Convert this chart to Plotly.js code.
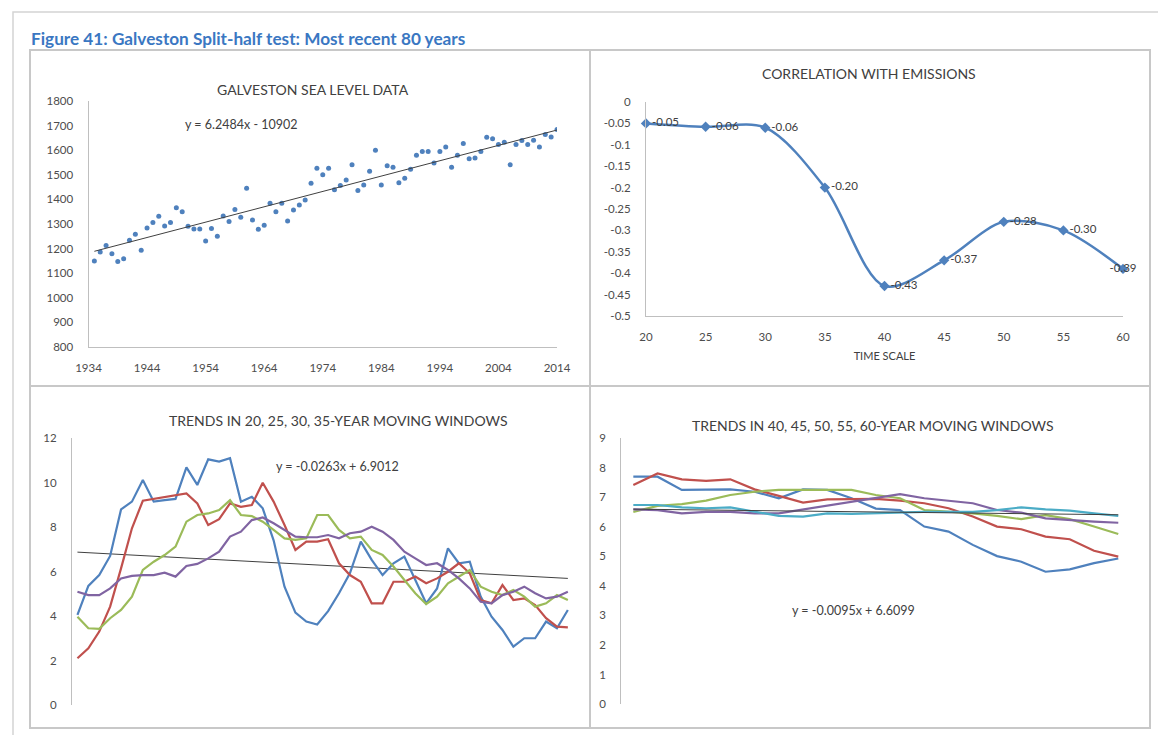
<!DOCTYPE html>
<html><head><meta charset="utf-8">
<script src="https://cdn.plot.ly/plotly-3.0.1.min.js"></script>
<style>html,body{margin:0;padding:0;background:#fff}#chart{width:1158px;height:735px}</style>
</head><body><div id="chart"></div>
<script>
// ---------- DATA ----------
const seaYears = [1935,1936,1937,1938,1939,1940,1941,1942,1943,1944,1945,1946,1947,1948,1949,1950,1951,1952,1953,1954,1955,1956,1957,1958,1959,1960,1961,1962,1963,1964,1965,1966,1967,1968,1969,1970,1971,1972,1973,1974,1975,1976,1977,1978,1979,1980,1981,1982,1983,1984,1985,1986,1987,1988,1989,1990,1991,1992,1993,1994,1995,1996,1997,1998,1999,2000,2001,2002,2003,2004,2005,2006,2007,2008,2009,2010,2011,2012,2013,2014];
const seaLevel = [1150,1186,1213,1179,1148,1159,1234,1258,1193,1284,1306,1332,1292,1306,1366,1350,1291,1280,1280,1231,1282,1250,1333,1310,1359,1327,1445,1316,1279,1295,1384,1350,1384,1312,1357,1377,1398,1466,1527,1500,1527,1439,1456,1479,1541,1436,1459,1514,1600,1459,1537,1531,1468,1486,1523,1579,1595,1595,1548,1595,1613,1531,1579,1627,1565,1568,1595,1653,1647,1623,1632,1541,1623,1639,1623,1640,1613,1664,1654,1684];
const seaTrendX = [1935, 2014];
const seaTrendY = [1189, 1682];
const seaYearTicks = [1934,1944,1954,1964,1974,1984,1994,2004,2014];

const corrScale = [20,25,30,35,40,45,50,55,60];
const corrValue = [-0.05,-0.058,-0.06,-0.20,-0.43,-0.37,-0.28,-0.30,-0.39];
const corrLabels = ["-0.05","-0.06","-0.06","-0.20","-0.43","-0.37","-0.28","-0.30","-0.39"];
const corrYTicks = [0,-0.05,-0.1,-0.15,-0.2,-0.25,-0.3,-0.35,-0.4,-0.45,-0.5];
const corrYText = ["0","-0.05","-0.1","-0.15","-0.2","-0.25","-0.3","-0.35","-0.4","-0.45","-0.5"];

const shortIdx = [1,2,3,4,5,6,7,8,9,10,11,12,13,14,15,16,17,18,19,20,21,22,23,24,25,26,27,28,29,30,31,32,33,34,35,36,37,38,39,40,41,42,43,44,45,46];
const win20 = [4.05,5.35,5.84,6.7,8.79,9.14,10.11,9.14,9.21,9.26,10.68,9.89,11.04,10.94,11.09,9.14,9.36,8.84,7.4,5.32,4.15,3.75,3.62,4.22,5.02,5.92,7.34,6.52,5.84,6.37,6.67,5.62,4.57,5.24,7.04,6.37,6.44,4.87,3.97,3.37,2.62,3.0,3.0,3.75,3.45,4.27];
const win25 = [2.10,2.55,3.30,4.42,6.14,7.94,9.18,9.26,9.32,9.41,9.51,9.06,8.09,8.35,9.06,8.91,8.99,9.99,9.14,8.09,6.97,7.34,7.34,7.45,6.37,5.84,5.54,4.57,4.57,5.54,5.54,5.77,5.47,5.69,5.99,6.37,5.92,4.72,4.57,5.39,4.72,4.79,4.49,3.90,3.52,3.49];
const win30 = [3.97,3.45,3.42,3.90,4.27,4.87,6.07,6.44,6.74,7.12,8.24,8.54,8.61,8.76,9.21,8.54,8.49,8.24,7.87,7.49,7.42,7.49,8.54,8.54,7.87,7.49,7.57,6.97,6.74,6.22,5.62,5.02,4.54,4.87,5.47,5.77,6.07,5.32,5.09,4.94,5.17,4.87,4.42,4.57,4.94,4.72];
const win35 = [5.09,4.94,4.94,5.24,5.69,5.80,5.84,5.84,5.95,5.77,6.25,6.34,6.59,6.89,7.57,7.79,8.31,8.43,8.17,7.87,7.57,7.54,7.54,7.64,7.49,7.72,7.79,8.01,7.79,7.42,6.89,6.59,6.29,6.37,6.07,5.69,5.24,4.64,4.57,4.94,5.09,5.32,5.02,4.79,4.87,5.09];
const shortTrendX = [1, 46];
const shortTrendY = [6.87, 5.69];
const shortYTicks = [0,2,4,6,8,10,12];

const longIdx = [1,2,3,4,5,6,7,8,9,10,11,12,13,14,15,16,17,18,19,20,21];
const win40 = [7.70,7.70,7.25,7.25,7.27,7.19,6.97,7.27,7.25,6.97,6.62,6.57,6.01,5.84,5.39,5.01,4.82,4.48,4.56,4.77,4.93];
const win45 = [7.42,7.81,7.61,7.56,7.61,7.27,7.05,6.82,6.93,6.93,6.95,6.89,6.80,6.63,6.35,6.01,5.92,5.67,5.58,5.19,4.99];
const win50 = [6.51,6.71,6.77,6.89,7.08,7.19,7.25,7.25,7.25,7.25,7.08,6.97,6.57,6.51,6.46,6.37,6.26,6.40,6.26,6.01,5.76];
const win55 = [6.59,6.57,6.46,6.51,6.51,6.46,6.46,6.59,6.74,6.85,7.00,7.11,6.97,6.89,6.80,6.57,6.48,6.29,6.23,6.18,6.14];
const win60 = [6.74,6.74,6.66,6.63,6.66,6.51,6.37,6.35,6.46,6.44,6.47,6.48,6.51,6.51,6.51,6.57,6.66,6.59,6.55,6.46,6.37];
const longTrendX = [1, 21];
const longTrendY = [6.60, 6.41];
const longYTicks = [0,1,2,3,4,5,6,7,8,9];

// ---------- LAYOUT HELPERS ----------
const W = 1158, H = 735;
const px = v => v / W;
const py = v => 1 - v / H;
const FONT = 'Lato, "Open Sans", sans-serif';
const BLUE = '#4F81BD', RED = '#C0504D', GREEN = '#9BBB59', PURPLE = '#8064A2', CYAN = '#4BACC6';
const tickFont = {family: FONT, size: 11.5, color: '#4d4d4d'};
const axisLine = '#bfbfbf';

const corrTextPos = corrLabels.map((_, i) => i === corrLabels.length - 1 ? 'middle center' : 'middle right');

const traces = [
  {x: seaYears, y: seaLevel, type: 'scatter', mode: 'markers', xaxis: 'x', yaxis: 'y',
   marker: {color: BLUE, size: 5}},
  {x: seaTrendX, y: seaTrendY, type: 'scatter', mode: 'lines', xaxis: 'x', yaxis: 'y',
   line: {color: '#404040', width: 1}},
  {x: corrScale, y: corrValue, type: 'scatter', mode: 'lines+markers+text', xaxis: 'x2', yaxis: 'y2',
   line: {color: BLUE, width: 2.5, shape: 'spline', smoothing: 0.9},
   marker: {symbol: 'diamond', size: 8, color: BLUE},
   text: corrLabels, textposition: corrTextPos, cliponaxis: false,
   textfont: {family: FONT, size: 11.5, color: '#404040'}},
  {x: shortTrendX, y: shortTrendY, type: 'scatter', mode: 'lines', xaxis: 'x3', yaxis: 'y3',
   line: {color: '#404040', width: 1}},
  {x: shortIdx, y: win20, type: 'scatter', mode: 'lines', xaxis: 'x3', yaxis: 'y3', line: {color: BLUE, width: 2.2}},
  {x: shortIdx, y: win25, type: 'scatter', mode: 'lines', xaxis: 'x3', yaxis: 'y3', line: {color: RED, width: 2.2}},
  {x: shortIdx, y: win30, type: 'scatter', mode: 'lines', xaxis: 'x3', yaxis: 'y3', line: {color: GREEN, width: 2.2}},
  {x: shortIdx, y: win35, type: 'scatter', mode: 'lines', xaxis: 'x3', yaxis: 'y3', line: {color: PURPLE, width: 2.2}},
  {x: longIdx, y: win40, type: 'scatter', mode: 'lines', xaxis: 'x4', yaxis: 'y4', line: {color: BLUE, width: 2.2}},
  {x: longIdx, y: win45, type: 'scatter', mode: 'lines', xaxis: 'x4', yaxis: 'y4', line: {color: RED, width: 2.2}},
  {x: longIdx, y: win50, type: 'scatter', mode: 'lines', xaxis: 'x4', yaxis: 'y4', line: {color: GREEN, width: 2.2}},
  {x: longIdx, y: win55, type: 'scatter', mode: 'lines', xaxis: 'x4', yaxis: 'y4', line: {color: PURPLE, width: 2.2}},
  {x: longIdx, y: win60, type: 'scatter', mode: 'lines', xaxis: 'x4', yaxis: 'y4', line: {color: CYAN, width: 2.2}},
  {x: longTrendX, y: longTrendY, type: 'scatter', mode: 'lines', xaxis: 'x4', yaxis: 'y4',
   line: {color: '#404040', width: 1}}
];

function xax(d0, d1, range, anchor, extra) {
  return Object.assign({domain: [px(d0), px(d1)], range: range, anchor: anchor, showgrid: false, zeroline: false,
    ticks: '', tickfont: tickFont, fixedrange: true}, extra);
}
function yax(d0, d1, range, anchor, extra) {
  return Object.assign({domain: [py(d0), py(d1)], range: range, anchor: anchor, showgrid: false, zeroline: false,
    ticks: '', tickfont: tickFont, showline: true, linecolor: axisLine, linewidth: 1,
    ticklabelstandoff: 12, fixedrange: true}, extra);
}

function ann(text, x, y, size, extra) {
  return Object.assign({text: text, x: px(x), y: py(y), xref: 'paper', yref: 'paper', showarrow: false,
    font: {family: FONT, size: size, color: '#404040'}, xanchor: 'center', yanchor: 'middle'}, extra);
}

const layout = {
  width: W, height: H, margin: {l: 0, r: 0, t: 0, b: 0},
  paper_bgcolor: '#ffffff', plot_bgcolor: 'rgba(0,0,0,0)', showlegend: false,
  font: {family: FONT},
  xaxis: xax(88.5, 557, [1934, 2014], 'y', {tickvals: seaYearTicks, showline: true, linecolor: axisLine, ticklabelstandoff: 10}),
  yaxis: yax(347, 101, [800, 1800], 'x', {dtick: 100, tick0: 800}),
  xaxis2: xax(646, 1123, [20, 60], 'y2', {tickvals: corrScale, showline: true, linecolor: axisLine, ticklabelstandoff: 10,
    title: {text: 'TIME SCALE', font: {family: FONT, size: 11, color: '#404040'}, standoff: 10}}),
  yaxis2: yax(316, 102, [-0.5, 0], 'x2', {tickvals: corrYTicks, ticktext: corrYText}),
  xaxis3: xax(72, 573.3, [0.5, 46.5], 'y3', {showticklabels: false, showline: false}),
  yaxis3: yax(705, 438, [0, 12], 'x3', {tickvals: shortYTicks}),
  xaxis4: xax(621.2, 1130.4, [0.5, 21.5], 'y4', {showticklabels: false, showline: false}),
  yaxis4: yax(704, 438.3, [0, 9], 'x4', {tickvals: longYTicks}),
  shapes: [
    {type: 'rect', xref: 'paper', yref: 'paper', x0: px(13), x1: px(1175), y0: py(760), y1: py(12),
     line: {color: '#d4d4d4', width: 1.5}, fillcolor: 'rgba(0,0,0,0)', layer: 'below'},
    {type: 'rect', xref: 'paper', yref: 'paper', x0: px(30), x1: px(1150), y0: py(728), y1: py(50),
     line: {color: '#c8c8c8', width: 2}, fillcolor: 'rgba(0,0,0,0)', layer: 'below'},
    {type: 'line', xref: 'paper', yref: 'paper', x0: px(590), x1: px(590), y0: py(728), y1: py(50),
     line: {color: '#c8c8c8', width: 2}, layer: 'below'},
    {type: 'line', xref: 'paper', yref: 'paper', x0: px(30), x1: px(1150), y0: py(386), y1: py(386),
     line: {color: '#c8c8c8', width: 2}, layer: 'below'}
  ],
  annotations: [
    ann('<b>Figure 41: Galveston Split-half test: Most recent 80 years</b>', 29, 39, 17.2,
        {xanchor: 'left', font: {family: FONT, size: 17.2, color: '#3A77C2'}}),
    ann('GALVESTON SEA LEVEL DATA', 313, 89, 14),
    ann('CORRELATION WITH EMISSIONS', 869, 73, 14),
    ann('TRENDS IN 20, 25, 30, 35-YEAR MOVING WINDOWS', 338, 421, 14),
    ann('TRENDS IN 40, 45, 50, 55, 60-YEAR MOVING WINDOWS', 873, 426, 14),
    ann('y = 6.2484x - 10902', 241, 125, 12.5),
    ann('y = -0.0263x + 6.9012', 337, 466, 12.5),
    ann('y = -0.0095x + 6.6099', 853, 610, 12.5)
  ]
};

Plotly.newPlot('chart', traces, layout, {displayModeBar: false, staticPlot: true});
</script>
</body></html>
